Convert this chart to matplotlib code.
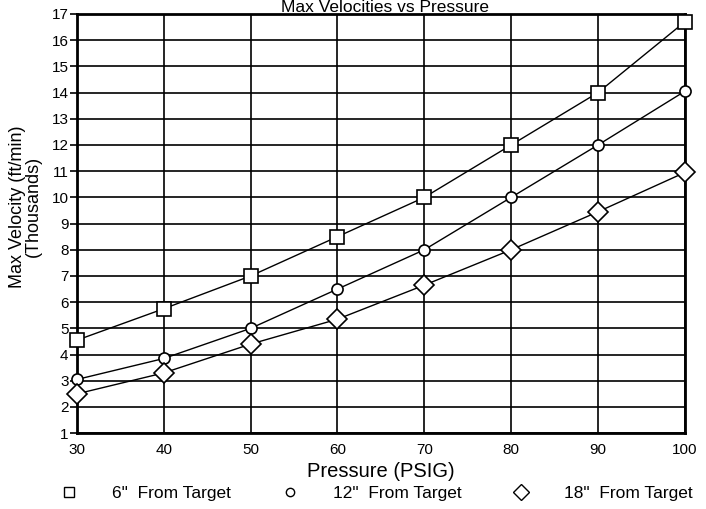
import matplotlib.pyplot as plt
from matplotlib.lines import Line2D

plt.rcParams['font.family'] = ['Liberation Sans', 'DejaVu Sans']

# Pressure values (PSIG)
pressure = [30, 40, 50, 60, 70, 80, 90, 100]

# Max velocity in thousands of ft/min
vel_6in = [4.55, 5.75, 7.0, 8.5, 10.0, 12.0, 14.0, 16.7]
vel_12in = [3.05, 3.85, 5.0, 6.5, 8.0, 10.0, 12.0, 14.05]
vel_18in = [2.5, 3.3, 4.4, 5.35, 6.65, 8.0, 9.45, 10.95]

labels = ['6"  From Target', '12"  From Target', '18"  From Target']

fig = plt.figure(figsize=(7.06, 5.09), dpi=100)
ax = fig.add_axes([0.109, 0.149, 0.861, 0.8235])

# Grid
for v in pressure:
    ax.axvline(v, color='black', lw=1.2, zorder=1)
for v in range(1, 18):
    ax.axhline(v, color='black', lw=1.2, zorder=1)

ax.plot(pressure, vel_6in, color='black', lw=1.0, marker='s', ms=9.5,
        mfc='white', mec='black', mew=1.2, zorder=3, clip_on=False)
ax.plot(pressure, vel_12in, color='black', lw=1.0, marker='o', ms=8,
        mfc='white', mec='black', mew=1.2, zorder=3, clip_on=False)
ax.plot(pressure, vel_18in, color='black', lw=1.0, marker='D', ms=10,
        mfc='white', mec='black', mew=1.2, zorder=3, clip_on=False)

ax.set_xlim(30, 100)
ax.set_ylim(1, 17)
ax.set_xticks(pressure)
ax.set_yticks(range(1, 18))
ax.tick_params(axis='y', direction='out', length=5, width=1.2, labelsize=11, pad=1)
ax.tick_params(axis='x', length=0, labelsize=11, pad=7)
for s in ax.spines.values():
    s.set_linewidth(2)

ax.set_xlabel('Pressure (PSIG)', fontsize=14.5, labelpad=4)
ax.set_ylabel('Max Velocity (ft/min)\n(Thousands)', fontsize=13, labelpad=4,
              linespacing=0.9)
ax.yaxis.set_label_coords(-0.058, 0.54)

fig.text(0.545, 1.0, 'Max Velocities vs Pressure', ha='center', va='top',
         fontsize=12.5)

handles = [
    Line2D([], [], ls='none', marker='s', ms=7, mfc='white', mec='black'),
    Line2D([], [], ls='none', marker='o', ms=6, mfc='white', mec='black'),
    Line2D([], [], ls='none', marker='D', ms=8, mfc='white', mec='black'),
]
fig.legend(handles, labels, loc='lower center', bbox_to_anchor=(0.527, -0.015),
           ncol=3, frameon=False, fontsize=12.5, handletextpad=1.5,
           columnspacing=2.4)

fig.savefig('out.png', dpi=100)
